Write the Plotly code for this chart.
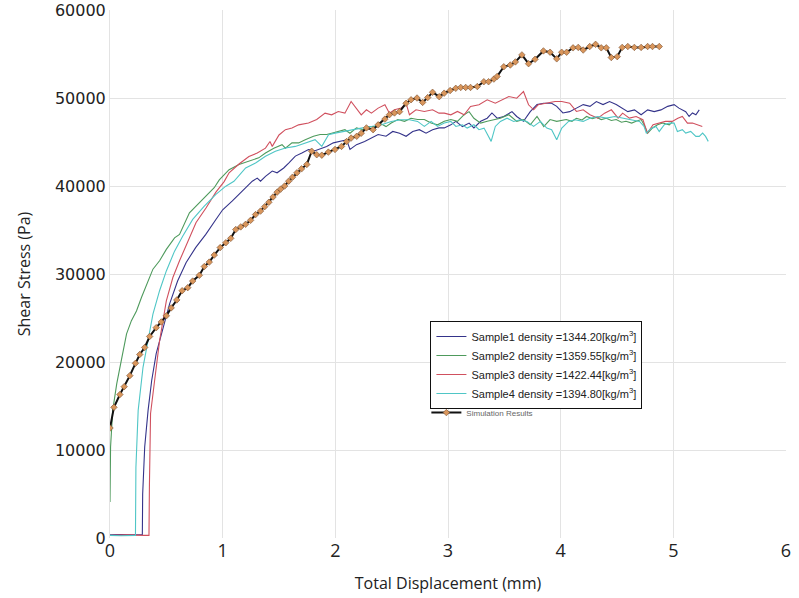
import plotly.graph_objects as go

# ---- Experimental shear-box samples: displacement (mm) vs shear stress (Pa) ----
s1_x = [0, 0.1, 0.2, 0.287, 0.29, 0.308, 0.338, 0.37, 0.41, 0.47, 0.529, 0.60, 0.676, 0.76, 0.85, 0.94,
        1.0, 1.086, 1.175, 1.263, 1.307, 1.336, 1.38, 1.44, 1.483, 1.542, 1.586, 1.645, 1.703, 1.762,
        1.82, 1.88, 1.923, 1.982, 2.04, 2.1, 2.13, 2.188, 2.26, 2.32, 2.38, 2.45, 2.51, 2.57, 2.628,
        2.687, 2.746, 2.805, 2.863, 2.92, 2.967, 3.025, 3.07, 3.128, 3.187, 3.23, 3.29, 3.348, 3.39,
        3.436, 3.495, 3.568, 3.61, 3.67, 3.73, 3.79, 3.85, 3.92, 3.965, 4.02, 4.08, 4.14, 4.2, 4.26,
        4.317, 4.376, 4.434, 4.493, 4.55, 4.596, 4.655, 4.714, 4.772, 4.83, 4.89, 4.95, 5.007, 5.05,
        5.11, 5.14, 5.17, 5.2, 5.23]
s1_y = [350, 400, 350, 400, 5000, 10350, 14500, 17900, 20950, 23950, 26600, 29200, 31300, 33000, 34500, 36200,
        37300, 38300, 39400, 40550, 40900, 40550, 41100, 41700, 41500, 42050, 42600, 43400, 43750, 44150,
        44000, 44300, 44500, 44900, 45050, 45250, 44150, 44700, 45050, 45450, 45850, 45650, 46200, 46000, 45650,
        46200, 46400, 46000, 46400, 46600, 46600, 46950, 47350, 46750, 47150, 46600, 47350, 47700, 48300,
        47700, 47900, 48450, 47900, 47350, 48450, 49250, 49400, 49400, 49050, 48300, 48450, 48850, 49250, 49050,
        49600, 49250, 49600, 49250, 48850, 48450, 48650, 48100, 48650, 48450, 48650, 49050, 49250, 48850,
        48450, 47900, 48300, 48100, 48650]

s2_x = [0, 0.005, 0.024, 0.06, 0.1, 0.147, 0.19, 0.235, 0.28, 0.337, 0.381, 0.44, 0.5, 0.573, 0.617, 0.705,
        0.778, 0.852, 0.925, 0.97, 1.057, 1.145, 1.233, 1.32, 1.38, 1.454, 1.527, 1.557, 1.615, 1.674,
        1.733, 1.806, 1.865, 1.923, 1.967, 2.026, 2.085, 2.13, 2.188, 2.247, 2.306, 2.35, 2.394, 2.45,
        2.496, 2.555, 2.614, 2.672, 2.73, 2.79, 2.85, 2.907, 2.967, 3.025, 3.084, 3.143, 3.187, 3.23,
        3.29, 3.348, 3.407, 3.465, 3.54, 3.61, 3.67, 3.73, 3.79, 3.85, 3.906, 3.965, 4.05, 4.10, 4.14,
        4.19, 4.23, 4.28, 4.317, 4.36, 4.405, 4.45, 4.493, 4.54, 4.58, 4.63, 4.67, 4.714, 4.74, 4.772,
        4.815, 4.86, 4.905, 4.964, 4.99]
s2_y = [4100, 10350, 14500, 17550, 20150, 23200, 24700, 25800, 27350, 29200, 30550, 31500, 32800, 34100, 34500, 36950,
        37900, 38850, 39800, 40700, 41850, 42450, 42800, 43200, 43750, 44300, 44700, 44300, 44900, 44900,
        45250, 45650, 45850, 45850, 46000, 46200, 46400, 46000, 46600, 46400, 46750, 46750, 47150, 46750,
        47150, 47550, 47350, 47700, 47550, 47550, 47150, 46950, 47350, 47550, 47350, 48100, 48450, 47700,
        47150, 47350, 47550, 47700, 48100, 47350, 47550, 46950, 47900, 46750, 47550, 47350, 47550, 47350, 47700,
        47500, 47900, 47650, 47800, 47550, 47700, 47450, 47550, 47250, 47350, 47150, 47350, 47550, 46950, 46000,
        46600, 46950, 47150, 46950, 47250]

s3_x = [0, 0.15, 0.3, 0.346, 0.35, 0.36, 0.396, 0.44, 0.5, 0.558, 0.617, 0.69, 0.764, 0.852, 0.94, 1.013,
        1.057, 1.145, 1.233, 1.307, 1.38, 1.42, 1.44, 1.5, 1.557, 1.615, 1.674, 1.762, 1.835, 1.909,
        1.967, 2.026, 2.085, 2.14, 2.188, 2.23, 2.276, 2.32, 2.38, 2.44, 2.48, 2.525, 2.584, 2.628,
        2.658, 2.716, 2.79, 2.863, 2.92, 2.967, 3.025, 3.084, 3.143, 3.2, 3.275, 3.348, 3.42, 3.48,
        3.54, 3.61, 3.67, 3.715, 3.76, 3.8, 3.877, 3.95, 4.01, 4.08, 4.14, 4.2, 4.26, 4.33, 4.39, 4.45,
        4.51, 4.55, 4.61, 4.67, 4.73, 4.77, 4.82, 4.875, 4.93, 4.99, 5.04, 5.08, 5.125, 5.17, 5.21, 5.257]
s3_y = [300, 350, 300, 300, 6000, 14150, 17900, 22400, 26950, 29600, 31500, 33750, 35850, 37500, 39300, 40500,
        41500, 42500, 43350, 43750, 44300, 45050, 44500, 45800, 46400, 46600, 46950, 47150, 47550, 48280,
        48090, 48470, 48280, 49600, 48850, 48090, 48660, 48280, 48850, 49230, 48280, 48660, 48850, 49410,
        48090, 48660, 48470, 48660, 48280, 48280, 48090, 48470, 48090, 49040, 49230, 49790, 49410, 49790,
        50170, 49980, 50740, 49230, 48660, 49230, 49410, 49600, 49600, 49410, 48470, 48660, 48090, 47710, 48280, 48660,
        47710, 48280, 47710, 47900, 47530, 46010, 46960, 47150, 47340, 47340, 47710, 47900, 47150, 47150, 46960, 46770]

s4_x = [0, 0.1, 0.226, 0.23, 0.25, 0.293, 0.337, 0.381, 0.44, 0.5, 0.573, 0.645, 0.734, 0.837, 0.94, 1.028,
        1.1, 1.204, 1.292, 1.38, 1.468, 1.557, 1.645, 1.733, 1.82, 1.88, 1.94, 1.997, 2.07, 2.14, 2.23,
        2.32, 2.41, 2.496, 2.584, 2.658, 2.73, 2.79, 2.85, 2.907, 2.967, 3.025, 3.07, 3.128, 3.17, 3.23,
        3.275, 3.32, 3.35, 3.383, 3.42, 3.465, 3.524, 3.583, 3.64, 3.7, 3.76, 3.82, 3.877, 3.92, 3.965,
        4.01, 4.07, 4.126, 4.2, 4.26, 4.33, 4.405, 4.48, 4.55, 4.626, 4.7, 4.74, 4.76, 4.8, 4.846, 4.875,
        4.92, 4.964, 5.007, 5.036, 5.08, 5.11, 5.154, 5.2, 5.23, 5.26, 5.286, 5.31]
s4_y = [300, 250, 300, 8000, 14500, 19400, 22400, 25450, 28100, 30350, 32600, 34300, 36200, 37700, 39050, 39980,
        40540, 42050, 42620, 43380, 43940, 44310, 44500, 44880, 45260, 44500, 45830, 46010, 46200, 46400, 46580,
        46770, 46960, 47340, 47530, 47530, 47340, 46770, 47340, 46770, 47150, 47340, 46770, 46960, 46580, 46960,
        46400, 46580, 45830, 45070, 46770, 47340, 47710, 47340, 47530, 47340, 46770, 47340, 46580, 46400, 45260,
        46580, 47340, 47530, 47340, 47710, 47900, 47710, 47900, 47710, 47530, 47340, 46770, 46010, 46500, 46770, 46200,
        46960, 47150, 47150, 46200, 46400, 46010, 46200, 45640, 45640, 46010, 45640, 45070]

# ---- Numerical simulation ----
sim_x = [0, 0.035, 0.088, 0.126, 0.176, 0.226, 0.264, 0.308, 0.352, 0.41, 0.455, 0.5, 0.543, 0.593, 0.64, 0.69,
         0.734, 0.793, 0.837, 0.881, 0.925, 0.978, 1.028, 1.072, 1.116, 1.16, 1.204, 1.248, 1.292, 1.336,
         1.373, 1.41, 1.447, 1.483, 1.515, 1.55, 1.586, 1.62, 1.659, 1.70, 1.747, 1.79, 1.835, 1.88, 1.938,
         1.997, 2.055, 2.1, 2.14, 2.19, 2.23, 2.276, 2.335, 2.38, 2.44, 2.48, 2.525, 2.57, 2.628, 2.672,
         2.725, 2.775, 2.82, 2.863, 2.922, 2.966, 3.019, 3.069, 3.113, 3.157, 3.2, 3.26, 3.318, 3.36, 3.407,
         3.436, 3.495, 3.553, 3.598, 3.656, 3.715, 3.773, 3.847, 3.906, 3.965, 4.009, 4.053, 4.11, 4.156,
         4.2, 4.258, 4.31, 4.36, 4.405, 4.449, 4.502, 4.546, 4.596, 4.654, 4.714, 4.772, 4.815, 4.875]
sim_y = [12500, 14850, 16300, 17200, 18450, 19850, 20850, 21650, 22900, 23900, 24550, 25250, 26150, 27050, 28100, 28450,
         29200, 29850, 30850, 31350, 32150, 33000, 33550, 34050, 35050, 35350, 35650, 36100, 36750, 37150,
         37650, 38150, 38750, 39300, 39650, 40000, 40550, 41000, 41500, 41950, 42450, 43950, 43550, 43500, 43850,
         44150, 44500, 45050, 45450, 45650, 46000, 46600, 46400, 46950, 47600, 48100, 48300, 48450, 49400, 49800,
         50000, 49500, 50050, 50650, 50150, 50550, 50850, 51100, 51200, 51200, 51200, 51300, 51850, 51850, 52150,
         52450, 53550, 53750, 54100, 54900, 53900, 54400, 55350, 55200, 54450, 55200, 55200, 55700, 55750,
         55450, 55850, 56100, 55700, 55700, 54600, 54700, 55750, 55850, 55750, 55750, 55850, 55850, 55850]

sample_names = [
    "Sample1 density =1344.20[kg/m<sup>3</sup>]",
    "Sample2 density =1359.55[kg/m<sup>3</sup>]",
    "Sample3 density =1422.44[kg/m<sup>3</sup>]",
    "Sample4 density =1394.80[kg/m<sup>3</sup>]",
]
sample_colors = ["#34338a", "#4e9a5c", "#d0505e", "#4fc6c6"]
sample_data = [(s1_x, s1_y), (s2_x, s2_y), (s3_x, s3_y), (s4_x, s4_y)]

fig = go.Figure()

for name, color, (xs, ys) in zip(sample_names, sample_colors, sample_data):
    fig.add_trace(go.Scatter(
        x=xs, y=ys, mode="lines", name=name,
        line=dict(color=color, width=1.1),
        legend="legend",
    ))

fig.add_trace(go.Scatter(
    x=sim_x, y=sim_y, mode="lines+markers", name="Simulation Results",
    line=dict(color="#111111", width=2),
    marker=dict(symbol="diamond", size=5, color="#d9965c",
                line=dict(color="#7a5030", width=0.6)),
    legend="legend2",
))

grid = "#e3e3e3"
fig.update_layout(
    width=799, height=598,
    margin=dict(l=110, r=8, t=10, b=60),
    paper_bgcolor="white", plot_bgcolor="white",
    showlegend=True,
    xaxis=dict(
        range=[0, 6], dtick=1, tick0=0,
        showgrid=True, gridcolor=grid, gridwidth=1,
        zeroline=False, showline=False, ticks="",
        tickfont=dict(family="Open Sans", size=18, color="#222222"),
        title=dict(text="Total Displacement (mm)", standoff=16,
                   font=dict(family="Open Sans", size=16, color="#222222")),
    ),
    yaxis=dict(
        range=[0, 60000], dtick=10000, tick0=0,
        showgrid=True, gridcolor=grid, gridwidth=1,
        zeroline=False, showline=True, linecolor=grid, linewidth=1, ticks="",
        tickformat="d", ticklabeloverflow="allow", automargin=False,
        tickfont=dict(family="DejaVu Sans", size=16, color="#222222"),
        title=dict(text="Shear Stress (Pa)", standoff=20,
                   font=dict(family="Open Sans", size=16, color="#222222")),
    ),
    legend=dict(
        x=0.474, y=0.411, xanchor="left", yanchor="top",
        bgcolor="white", bordercolor="#111111", borderwidth=1,
        font=dict(family="Liberation Sans", size=11, color="#222222"),
        tracegroupgap=0,
    ),
    legend2=dict(
        x=0.468, y=0.265, xanchor="left", yanchor="top",
        bgcolor="rgba(0,0,0,0)", borderwidth=0,
        font=dict(family="Liberation Sans", size=8, color="#666666"),
    ),
)

fig.write_html("out.html")
